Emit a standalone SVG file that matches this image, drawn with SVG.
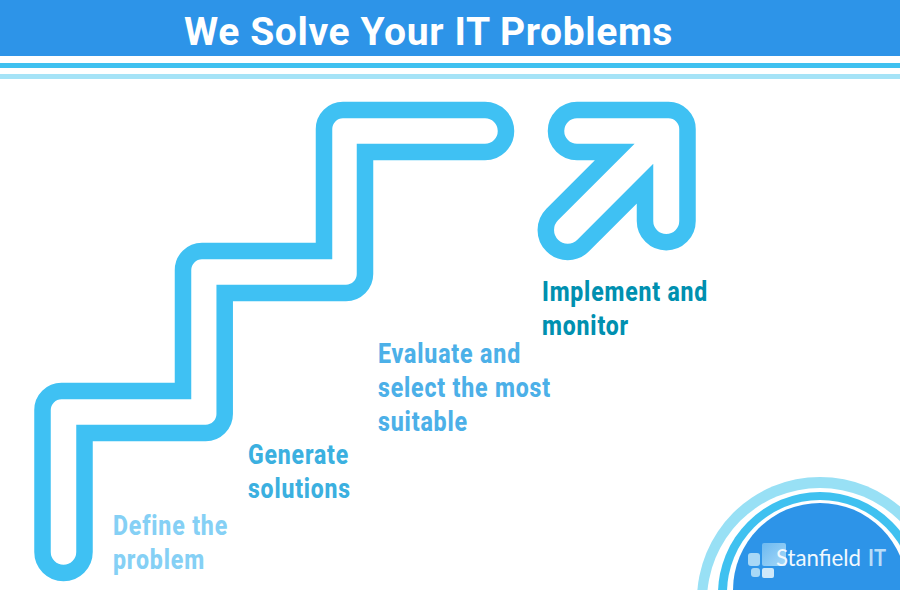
<svg xmlns="http://www.w3.org/2000/svg" width="900" height="590" viewBox="0 0 900 590">
<style>
.line{fill:none;stroke:#3fc1f3;stroke-width:16.5;stroke-miterlimit:10}
.lab{font-family:Roboto,"Liberation Sans",sans-serif;font-weight:800;font-size:28px;letter-spacing:1px}
.logo{font-family:Lato,"Noto Sans",sans-serif;font-size:23px}
</style>
<defs><linearGradient id="sq" x1="0" y1="0" x2="1" y2="1"><stop offset="0" stop-color="#6db9f0"/><stop offset="1" stop-color="#a5d8f8"/></linearGradient></defs>
<rect width="900" height="590" fill="#fff"/>
<g id="header">
<rect width="900" height="56" fill="#2d94e8"/>
<rect y="63" width="900" height="5" fill="#3fc1f0"/>
<rect y="74" width="900" height="5" fill="#a5e3f7"/>
<text x="184" y="45" font-family="Roboto,'Liberation Sans',sans-serif" font-weight="700" font-size="39" letter-spacing="0.6" fill="#fff" textLength="489" lengthAdjust="spacingAndGlyphs">We Solve Your IT Problems</text>
</g>
<g id="connectors">
<path id="stairs" class="line" d="M42.5 552V410A19 19 0 0 1 61.500 391H183V270A19 19 0 0 1 202 251H324V129A19 19 0 0 1 343 110H485A21 21 0 0 1 485 152H365V274A19 19 0 0 1 346 293H224.700V414A19 19 0 0 1 205.700 433H84.500V552A21 21 0 0 1 42.500 552Z"/>
<path id="arrow" class="line" d="M577 110H668.500A19 19 0 0 1 687.500 129V221A21.200 21.200 0 0 1 645 221V183.700L583.200 245.500A21.900 21.900 0 0 1 552.200 214.500L614.700 152H577A21 21 0 0 1 577 110Z"/>
</g>
<g id="step1"><text class="lab" fill="#85d0f5"><tspan x="113" y="535" textLength="115" lengthAdjust="spacingAndGlyphs">Define the</tspan><tspan x="113" y="569" textLength="92" lengthAdjust="spacingAndGlyphs">problem</tspan></text></g>
<g id="step2"><text class="lab" fill="#3bb0e0"><tspan x="248" y="464" textLength="101" lengthAdjust="spacingAndGlyphs">Generate</tspan><tspan x="248" y="498" textLength="103" lengthAdjust="spacingAndGlyphs">solutions</tspan></text></g>
<g id="step3"><text class="lab" fill="#4cb0e8"><tspan x="378" y="363" textLength="143" lengthAdjust="spacingAndGlyphs">Evaluate and</tspan><tspan x="378" y="397" textLength="173" lengthAdjust="spacingAndGlyphs">select the most</tspan><tspan x="378" y="431" textLength="90" lengthAdjust="spacingAndGlyphs">suitable</tspan></text></g>
<g id="step4"><text class="lab" fill="#0090b0"><tspan x="542" y="301" textLength="166" lengthAdjust="spacingAndGlyphs">Implement and</tspan><tspan x="542" y="335" textLength="87" lengthAdjust="spacingAndGlyphs">monitor</tspan></text></g>
<g id="logo">
<circle cx="820" cy="600" r="123" fill="#98e0f5"/>
<circle cx="820" cy="601" r="113" fill="#fff"/>
<circle cx="820" cy="594" r="102" fill="#3fc1f0"/>
<circle cx="820" cy="593" r="93" fill="#fff"/>
<circle cx="820" cy="590" r="87" fill="#2d94e8"/>
<rect x="762" y="543" width="24" height="23" rx="2" fill="url(#sq)"/>
<rect x="748" y="553" width="12" height="13" rx="3" fill="#a8d8f6"/>
<rect x="751" y="568" width="9" height="9" rx="3" fill="#a8d8f6"/>
<rect x="762" y="568" width="12" height="10" rx="2" fill="#cfe9fa"/>
<text class="logo" x="776" y="566" fill="#f0f8fe" textLength="85" lengthAdjust="spacingAndGlyphs">Stanfield</text>
<text class="logo" x="868" y="566" font-weight="700" fill="#b8ddf8" textLength="18" lengthAdjust="spacingAndGlyphs">IT</text>
</g>
</svg>
